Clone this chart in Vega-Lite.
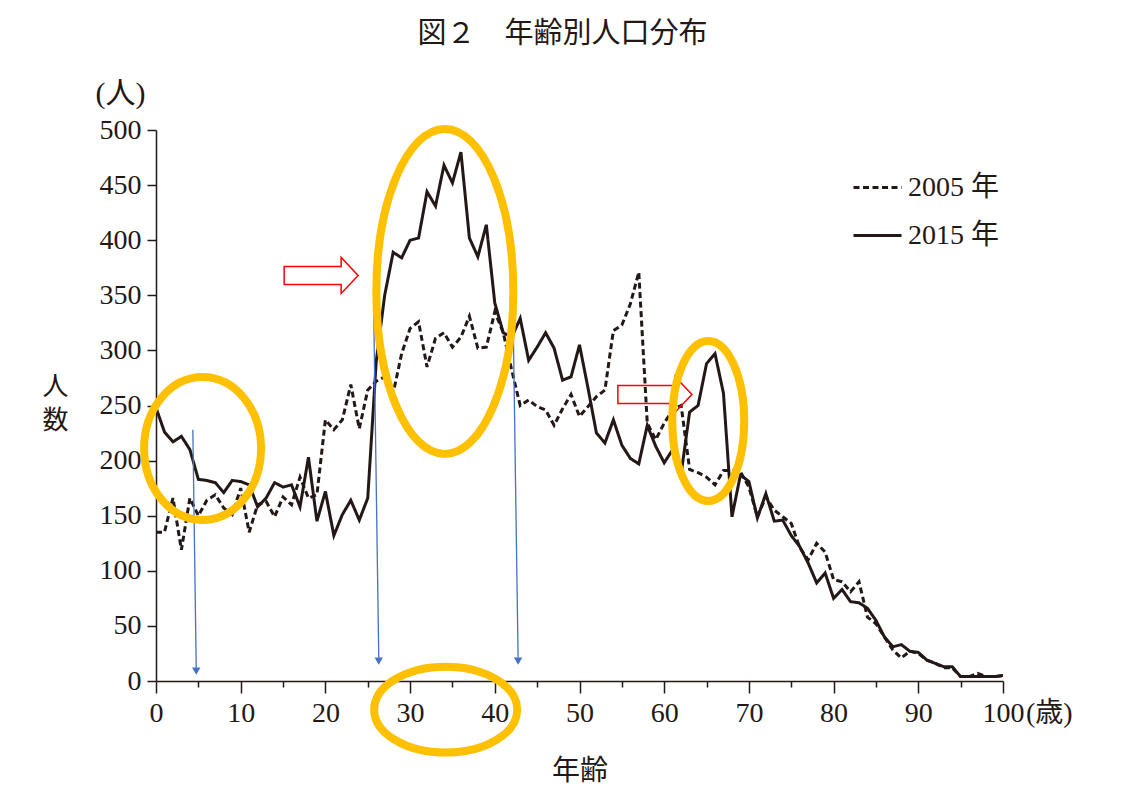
{
  "$schema": "https://vega.github.io/schema/vega-lite/v6.json",
  "width": 847,
  "height": 551,
  "autosize": {"type": "none"},
  "padding": {"left": 156, "top": 130, "right": 135, "bottom": 106},
  "background": "white",
  "config": {"view": {"stroke": null}, "font": "Liberation Serif, Noto Sans CJK JP"},
  "title": {"text": "図２　年齢別人口分布", "font": "Liberation Serif, Noto Sans CJK JP", "fontSize": 29, "fontWeight": "normal", "color": "#231815", "anchor": "middle", "frame": "group", "dx": -17, "offset": 30},
  "datasets": {
    "pop": [
      {"age":0,"2005 年":135,"2015 年":248},{"age":1,"2005 年":135,"2015 年":226},{"age":2,"2005 年":166,"2015 年":217},{"age":3,"2005 年":119,"2015 年":222},{"age":4,"2005 年":166,"2015 年":210},
      {"age":5,"2005 年":150,"2015 年":183},{"age":6,"2005 年":164,"2015 年":182},{"age":7,"2005 年":169,"2015 年":180},{"age":8,"2005 年":157,"2015 年":171},{"age":9,"2005 年":151,"2015 年":182},
      {"age":10,"2005 年":175,"2015 年":181},{"age":11,"2005 年":135,"2015 年":178},{"age":12,"2005 年":160,"2015 年":158},{"age":13,"2005 年":163,"2015 年":166},{"age":14,"2005 年":149,"2015 年":180},
      {"age":15,"2005 年":167,"2015 年":176},{"age":16,"2005 年":160,"2015 年":178},{"age":17,"2005 年":185,"2015 年":158},{"age":18,"2005 年":166,"2015 年":203},{"age":19,"2005 年":169,"2015 年":145},
      {"age":20,"2005 年":237,"2015 年":172},{"age":21,"2005 年":228,"2015 年":132},{"age":22,"2005 年":237,"2015 年":151},{"age":23,"2005 年":269,"2015 年":164},{"age":24,"2005 年":229,"2015 年":146},
      {"age":25,"2005 年":264,"2015 年":166},{"age":26,"2005 年":272,"2015 年":290},{"age":27,"2005 年":276,"2015 年":350},{"age":28,"2005 年":261,"2015 年":389},{"age":29,"2005 年":297,"2015 年":384},
      {"age":30,"2005 年":320,"2015 年":400},{"age":31,"2005 年":326,"2015 年":402},{"age":32,"2005 年":285,"2015 年":444},{"age":33,"2005 年":311,"2015 年":431},{"age":34,"2005 年":316,"2015 年":468},
      {"age":35,"2005 年":303,"2015 年":452},{"age":36,"2005 年":312,"2015 年":480},{"age":37,"2005 年":331,"2015 年":402},{"age":38,"2005 年":302,"2015 年":385},{"age":39,"2005 年":303,"2015 年":414},
      {"age":40,"2005 年":335,"2015 年":343},{"age":41,"2005 年":316,"2015 年":316},{"age":42,"2005 年":282,"2015 年":312},{"age":43,"2005 年":250,"2015 年":329},{"age":44,"2005 年":255,"2015 年":291},
      {"age":45,"2005 年":249,"2015 年":303},{"age":46,"2005 年":246,"2015 年":316},{"age":47,"2005 年":232,"2015 年":302},{"age":48,"2005 年":247,"2015 年":273},{"age":49,"2005 年":260,"2015 年":276},
      {"age":50,"2005 年":240,"2015 年":305},{"age":51,"2005 年":249,"2015 年":266},{"age":52,"2005 年":258,"2015 年":225},{"age":53,"2005 年":264,"2015 年":216},{"age":54,"2005 年":318,"2015 年":237},
      {"age":55,"2005 年":323,"2015 年":214},{"age":56,"2005 年":342,"2015 年":202},{"age":57,"2005 年":371,"2015 年":197},{"age":58,"2005 年":234,"2015 年":232},{"age":59,"2005 年":219,"2015 年":213},
      {"age":60,"2005 年":234,"2015 年":198},{"age":61,"2005 年":246,"2015 年":210},{"age":62,"2005 年":250,"2015 年":188},{"age":63,"2005 年":192,"2015 年":244},{"age":64,"2005 年":189,"2015 年":250},
      {"age":65,"2005 年":185,"2015 年":288},{"age":66,"2005 年":178,"2015 年":297},{"age":67,"2005 年":191,"2015 年":261},{"age":68,"2005 年":191,"2015 年":149},{"age":69,"2005 年":190,"2015 年":187},
      {"age":70,"2005 年":176,"2015 年":181},{"age":71,"2005 年":149,"2015 年":148},{"age":72,"2005 年":167,"2015 年":170},{"age":73,"2005 年":155,"2015 年":145},{"age":74,"2005 年":149,"2015 年":146},
      {"age":75,"2005 年":143,"2015 年":132},{"age":76,"2005 年":121,"2015 年":122},{"age":77,"2005 年":110,"2015 年":107},{"age":78,"2005 年":125,"2015 年":89},{"age":79,"2005 年":117,"2015 年":98},
      {"age":80,"2005 年":92,"2015 年":75},{"age":81,"2005 年":90,"2015 年":83},{"age":82,"2005 年":81,"2015 年":72},{"age":83,"2005 年":90,"2015 年":71},{"age":84,"2005 年":58,"2015 年":66},
      {"age":85,"2005 年":52,"2015 年":55},{"age":86,"2005 年":40,"2015 年":40},{"age":87,"2005 年":28,"2015 年":31},{"age":88,"2005 年":21,"2015 年":33},{"age":89,"2005 年":27,"2015 年":27},
      {"age":90,"2005 年":25,"2015 年":26},{"age":91,"2005 年":19,"2015 年":19},{"age":92,"2005 年":16,"2015 年":16},{"age":93,"2005 年":12,"2015 年":13},{"age":94,"2005 年":12,"2015 年":13},
      {"age":95,"2005 年":4,"2015 年":4},{"age":96,"2005 年":4,"2015 年":4},{"age":97,"2005 年":7,"2015 年":4},{"age":98,"2005 年":4,"2015 年":4},{"age":99,"2005 年":4,"2015 年":4},
      {"age":100,"2005 年":5,"2015 年":5}
    ]
  },
  "layer": [
    {
      "data": {"name": "pop"},
      "transform": [{"fold": ["2005 年", "2015 年"], "as": ["series", "value"]}],
      "mark": {"type": "line", "color": "#231815", "strokeWidth": 3, "strokeCap": "butt"},
      "encoding": {
        "x": {"field": "age", "type": "quantitative", "scale": {"domain": [0, 100], "nice": false},
          "axis": {"values": [0,5,10,15,20,25,30,35,40,45,50,55,60,65,70,75,80,85,90,95,100],
            "labelExpr": "datum.value % 10 === 0 ? datum.label : ''",
            "tickSize": {"condition": {"test": "datum.value % 10 === 0", "value": 12}, "value": 6},
            "labelPadding": 6, "labelFont": "Liberation Serif", "labelFontSize": 28, "labelColor": "#231815",
            "labelFlush": false, "labelOverlap": false,
            "domainColor": "#231815", "domainWidth": 1.5, "tickColor": "#231815", "tickWidth": 1.5, "grid": false,
            "title": "年齢", "titleFont": "Liberation Serif, Noto Sans CJK JP", "titleFontSize": 28, "titleFontWeight": "normal", "titleColor": "#231815", "titlePadding": 30}},
        "y": {"field": "value", "type": "quantitative", "scale": {"domain": [0, 500], "nice": false},
          "axis": {"values": [0,50,100,150,200,250,300,350,400,450,500],
            "tickSize": 9, "labelPadding": 6, "labelFont": "Liberation Serif", "labelFontSize": 28, "labelColor": "#231815",
            "labelFlush": false, "labelOverlap": false,
            "domainColor": "#231815", "domainWidth": 1.5, "tickColor": "#231815", "tickWidth": 1.5, "grid": false,
            "title": ["人", "数"], "titleAngle": 0, "titleAlign": "center", "titleBaseline": "top", "titleX": -101, "titleY": 243,
            "titleLineHeight": 34, "titleFont": "Noto Sans CJK JP", "titleFontSize": 26, "titleFontWeight": "normal", "titleColor": "#231815"}},
        "strokeDash": {"field": "series", "type": "nominal",
          "scale": {"domain": ["2005 年", "2015 年"], "range": [[6, 3.5], [1, 0]]},
          "legend": {"title": null, "orient": "none", "legendX": 696, "legendY": 32, "symbolType": "stroke", "symbolSize": 2304,
            "symbolStrokeWidth": 3, "symbolStrokeColor": "#231815", "labelFont": "Liberation Serif, Noto Sans CJK JP", "labelFontSize": 28,
            "labelColor": "#231815", "labelOffset": 5, "rowPadding": 8, "labelLimit": 300}}
      }
    },
    {
      "data": {"values": [
        {"age": 4.35, "value": 228, "age_end": 4.75, "value_end": 12},
        {"age": 25.7, "value": 337, "age_end": 26.3, "value_end": 21},
        {"age": 42.15, "value": 337, "age_end": 42.75, "value_end": 21}
      ]},
      "mark": {"type": "rule", "color": "#4472C4", "strokeWidth": 1.3},
      "encoding": {
        "x": {"field": "age", "type": "quantitative", "scale": {"domain": [0, 100], "nice": false}},
        "y": {"field": "value", "type": "quantitative", "scale": {"domain": [0, 500], "nice": false}},
        "x2": {"field": "age_end"},
        "y2": {"field": "value_end"}
      }
    },
    {
      "data": {"values": [
        {"age": 4.75, "value": 9},
        {"age": 26.3, "value": 18},
        {"age": 42.75, "value": 18}
      ]},
      "mark": {"type": "point", "shape": "triangle-down", "size": 70, "filled": true, "color": "#4472C4", "opacity": 1},
      "encoding": {
        "x": {"field": "age", "type": "quantitative", "scale": {"domain": [0, 100], "nice": false}},
        "y": {"field": "value", "type": "quantitative", "scale": {"domain": [0, 500], "nice": false}}
      }
    },
    {
      "data": {"values": [
        {"age": 19.5, "value": 368},
        {"age": 58.9, "value": 260}
      ]},
      "mark": {"type": "point", "shape": "M -1 -0.243 L 0.54 -0.243 L 0.54 -0.486 L 1 0 L 0.54 0.486 L 0.54 0.243 L -1 0.243 Z",
        "size": 5476, "filled": false, "stroke": "#FF0000", "strokeWidth": 1.5, "opacity": 1},
      "encoding": {
        "x": {"field": "age", "type": "quantitative", "scale": {"domain": [0, 100], "nice": false}},
        "y": {"field": "value", "type": "quantitative", "scale": {"domain": [0, 500], "nice": false}}
      }
    },
    {
      "data": {"values": [{"age": 5.5, "value": 211}]},
      "mark": {"type": "point", "shape": "M 0.818 0 C 0.818 0.5523 0.4518 1 0 1 C -0.4518 1 -0.818 0.5523 -0.818 0 C -0.818 -0.5523 -0.4518 -1 0 -1 C 0.4518 -1 0.818 -0.5523 0.818 0 Z",
        "size": 20449, "filled": false, "stroke": "#FFC000", "strokeWidth": 8, "opacity": 1},
      "encoding": {
        "x": {"field": "age", "type": "quantitative", "scale": {"domain": [0, 100], "nice": false}},
        "y": {"field": "value", "type": "quantitative", "scale": {"domain": [0, 500], "nice": false}}
      }
    },
    {
      "data": {"values": [{"age": 34.1, "value": 353.5}]},
      "mark": {"type": "point", "shape": "M 0.4215 0 C 0.4215 0.5523 0.2328 1 0 1 C -0.2328 1 -0.4215 0.5523 -0.4215 0 C -0.4215 -0.5523 -0.2328 -1 0 -1 C 0.2328 -1 0.4215 -0.5523 0.4215 0 Z",
        "size": 105625, "filled": false, "stroke": "#FFC000", "strokeWidth": 8, "opacity": 1},
      "encoding": {
        "x": {"field": "age", "type": "quantitative", "scale": {"domain": [0, 100], "nice": false}},
        "y": {"field": "value", "type": "quantitative", "scale": {"domain": [0, 500], "nice": false}}
      }
    },
    {
      "data": {"values": [{"age": 65.2, "value": 236}]},
      "mark": {"type": "point", "shape": "M 0.45 0 C 0.45 0.5523 0.2485 1 0 1 C -0.2485 1 -0.45 0.5523 -0.45 0 C -0.45 -0.5523 -0.2485 -1 0 -1 C 0.2485 -1 0.45 -0.5523 0.45 0 Z",
        "size": 25600, "filled": false, "stroke": "#FFC000", "strokeWidth": 8, "opacity": 1},
      "encoding": {
        "x": {"field": "age", "type": "quantitative", "scale": {"domain": [0, 100], "nice": false}},
        "y": {"field": "value", "type": "quantitative", "scale": {"domain": [0, 500], "nice": false}}
      }
    },
    {
      "data": {"values": [{"age": 34.2, "value": -26}]},
      "mark": {"type": "point", "shape": "M 1 0 C 1 0.3319 0.5523 0.601 0 0.601 C -0.5523 0.601 -1 0.3319 -1 0 C -1 -0.3319 -0.5523 -0.601 0 -0.601 C 0.5523 -0.601 1 -0.3319 1 0 Z",
        "size": 20449, "filled": false, "stroke": "#FFC000", "strokeWidth": 8, "opacity": 1},
      "encoding": {
        "x": {"field": "age", "type": "quantitative", "scale": {"domain": [0, 100], "nice": false}},
        "y": {"field": "value", "type": "quantitative", "scale": {"domain": [0, 500], "nice": false}}
      }
    },
    {
      "data": {"values": [{"label": "(人)", "age": -4.2, "value": 533}]},
      "mark": {"type": "text", "font": "Liberation Serif, Noto Sans CJK JP", "fontSize": 30, "color": "#231815", "align": "center", "baseline": "middle"},
      "encoding": {
        "text": {"field": "label"},
        "x": {"field": "age", "type": "quantitative", "scale": {"domain": [0, 100], "nice": false}},
        "y": {"field": "value", "type": "quantitative", "scale": {"domain": [0, 500], "nice": false}}
      }
    },
    {
      "data": {"values": [{"label": "(歳)", "age": 100, "value": 0}]},
      "mark": {"type": "text", "font": "Liberation Serif, Noto Sans CJK JP", "fontSize": 28, "color": "#231815", "align": "left", "baseline": "middle", "dx": 23, "dy": 33},
      "encoding": {
        "text": {"field": "label"},
        "x": {"field": "age", "type": "quantitative", "scale": {"domain": [0, 100], "nice": false}},
        "y": {"field": "value", "type": "quantitative", "scale": {"domain": [0, 500], "nice": false}}
      }
    }
  ]
}
